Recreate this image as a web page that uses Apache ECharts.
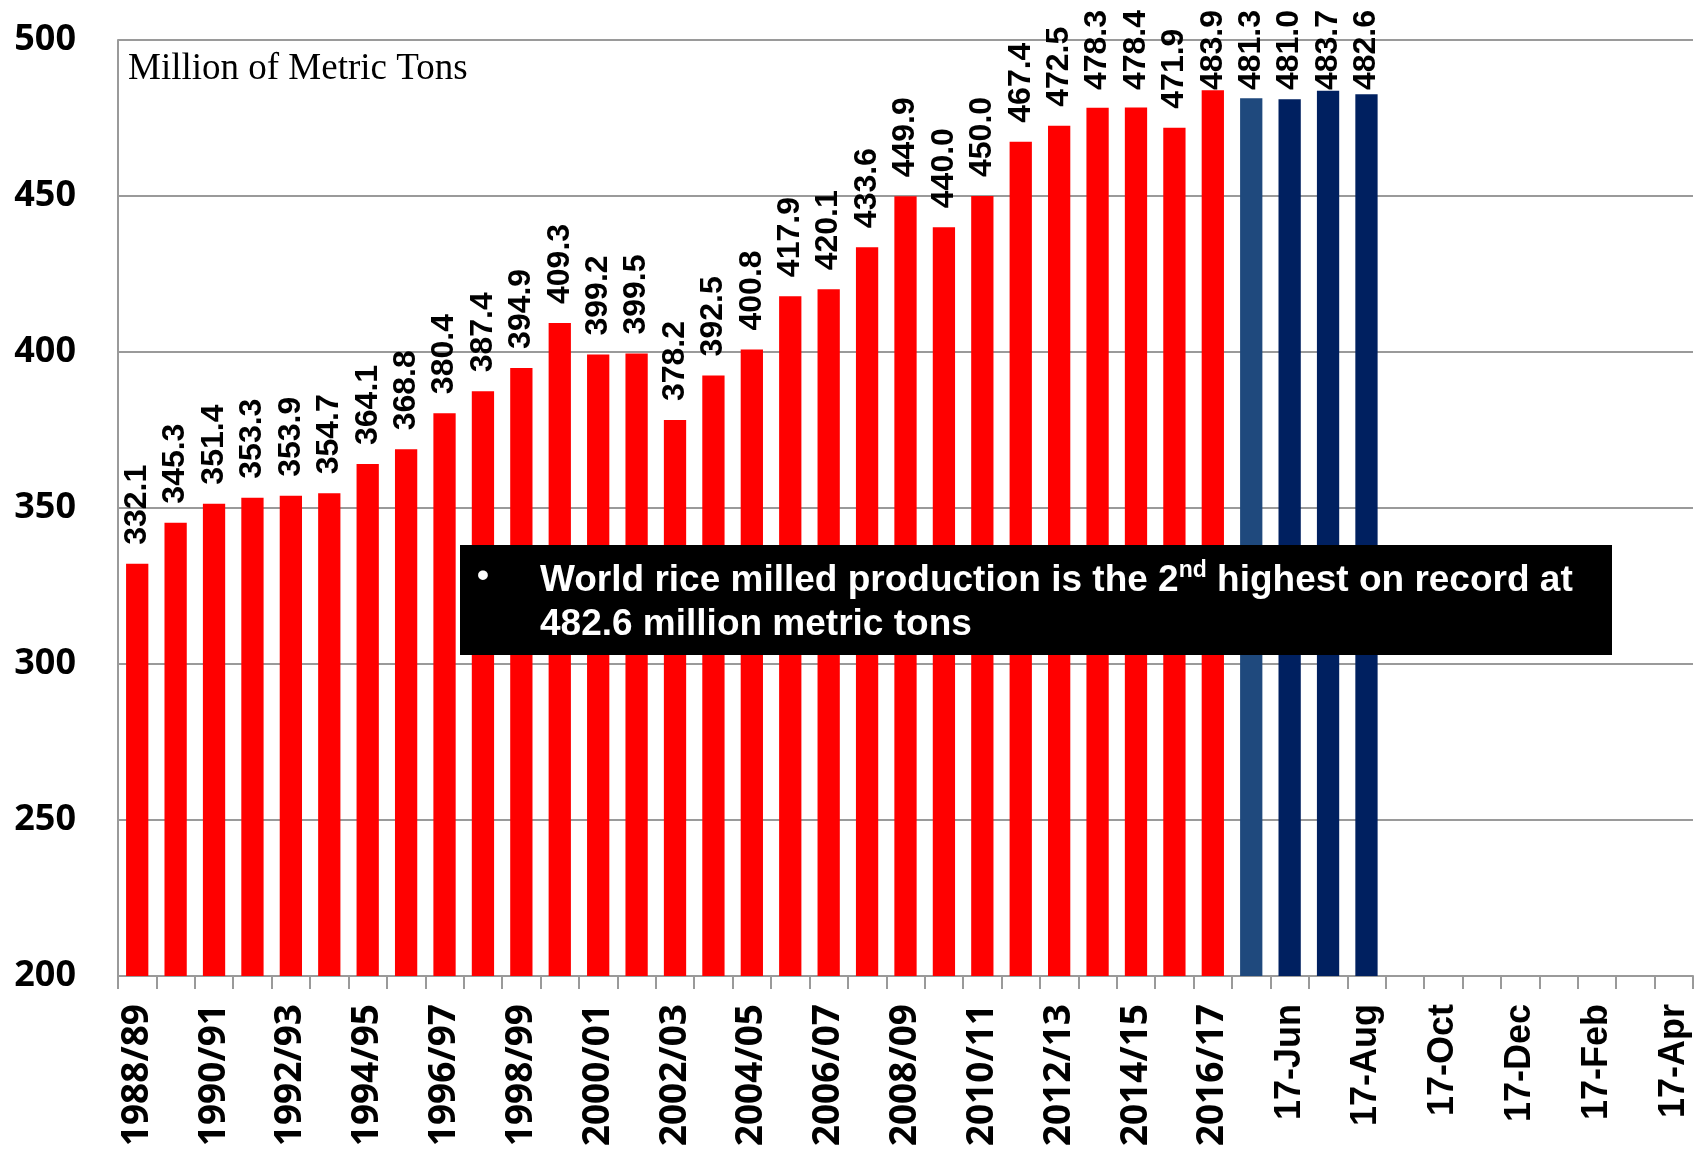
<!DOCTYPE html>
<html><head><meta charset="utf-8">
<script src="https://cdn.jsdelivr.net/npm/echarts@6/dist/echarts.min.js"></script>
<style>html,body{margin:0;padding:0;background:#fff}#c{width:1694px;height:1153px}</style>
</head><body><div id="c"></div>
<script>
const yearCats = ['1988/89','1989/90','1990/91','1991/92','1992/93','1993/94','1994/95','1995/96','1996/97','1997/98','1998/99','1999/00','2000/01','2001/02','2002/03','2003/04','2004/05','2005/06','2006/07','2007/08','2008/09','2009/10','2010/11','2011/12','2012/13','2013/14','2014/15','2015/16','2016/17'];
const monthCats = ['17-May','17-Jun','17-Jul','17-Aug','17-Sep','17-Oct','17-Nov','17-Dec','17-Jan','17-Feb','17-Mar','17-Apr'];
const yearValues = [332.1,345.3,351.4,353.3,353.9,354.7,364.1,368.8,380.4,387.4,394.9,409.3,399.2,399.5,378.2,392.5,400.8,417.9,420.1,433.6,449.9,440.0,450.0,467.4,472.5,478.3,478.4,471.9,483.9];
const monthValues = [481.3,481.0,483.7,482.6];
const yMin = 200, yMax = 500, yStep = 50;

const categories = yearCats.concat(monthCats);
const values = yearValues.concat(monthValues);
const RED = '#FF0000', MID = '#1F497D', NAVY = '#002060';
const LABEL_GAP = 19, LABEL_TOP_LIMIT = 10;

const chart = echarts.init(document.getElementById('c'), null, {renderer:'canvas'});
chart.setOption({
  animation: false,
  backgroundColor: '#fff',
  grid: { left: 118, right: 1, top: 40, bottom: 177, containLabel: false },
  xAxis: {
    type: 'category', data: categories, boundaryGap: true,
    axisLine: { lineStyle: { color: '#9a9a9a', width: 2 } },
    axisTick: { show: true, interval: 0, length: 13, lineStyle: { color: '#9a9a9a', width: 2 } },
    axisLabel: {
      interval: 1, rotate: 90, margin: 28,
      formatter: v => v.indexOf('/') >= 0 ? '{y|' + v + '}' : '{m|' + v + '}',
      rich: {
        y: { fontFamily: 'Open Sans', fontWeight: 'bold', fontSize: 37, color: '#000' },
        m: { fontFamily: 'Liberation Sans', fontWeight: 'bold', fontSize: 36, color: '#000' }
      }
    },
    splitLine: { show: false }
  },
  yAxis: {
    type: 'value', min: yMin, max: yMax, interval: yStep,
    axisLine: { show: true, lineStyle: { color: '#9a9a9a', width: 2 } },
    axisTick: { show: false },
    axisLabel: { margin: 42, fontFamily: 'Open Sans', fontWeight: 'bold', fontSize: 36, color: '#000' },
    splitLine: { lineStyle: { color: '#9a9a9a', width: 2 } }
  },
  series: [{
    type: 'bar', data: values, barCategoryGap: '42%',
    itemStyle: {
      color: p => p.dataIndex < yearValues.length ? RED : (p.dataIndex === yearValues.length ? MID : NAVY)
    },
    label: {
      show: true, position: 'top', distance: LABEL_GAP, rotate: 90, align: 'left', verticalAlign: 'middle',
      fontFamily: 'Liberation Sans', fontWeight: 'bold', fontSize: 32, color: '#000',
      formatter: p => p.value == null ? '' : Number(p.value).toFixed(1)
    },
    labelLayout: function (params) {
      const r = params.labelRect, b = params.rect;
      if (!r || !b) return {};
      const len = Math.max(r.width, r.height);
      const anchorY = b.y - LABEL_GAP;
      const need = LABEL_TOP_LIMIT + len - anchorY;
      // label is rotated 90deg, so its local -x axis points down on screen
      if (need > 0) return { dx: -need };
      return {};
    }
  }],
  graphic: [
    { type: 'text', left: 128, top: 51, z: 10,
      style: { text: 'Million of Metric Tons', fill: '#000', font: '37px "Liberation Serif"' } },
    { type: 'rect', left: 460, top: 545, z: 20, shape: { width: 1152, height: 110 }, style: { fill: '#000' } },
    { type: 'text', left: 477, top: 560, z: 21,
      style: { text: '•', fill: '#fff', font: 'bold 34px "Liberation Sans"' } },
    { type: 'text', left: 540, top: 559, z: 21,
      style: {
        text: '{a|World rice milled production is the 2}{s|nd}{a| highest on record at}\n{a|482.6 million metric tons}',
        fill: '#fff',
        rich: {
          a: { fill: '#fff', fontFamily: 'Liberation Sans', fontWeight: 'bold', fontSize: 37, lineHeight: 44 },
          s: { fill: '#fff', fontFamily: 'Liberation Sans', fontWeight: 'bold', fontSize: 23, lineHeight: 30, verticalAlign: 'top' }
        }
      } }
  ]
});
</script>
</body></html>
